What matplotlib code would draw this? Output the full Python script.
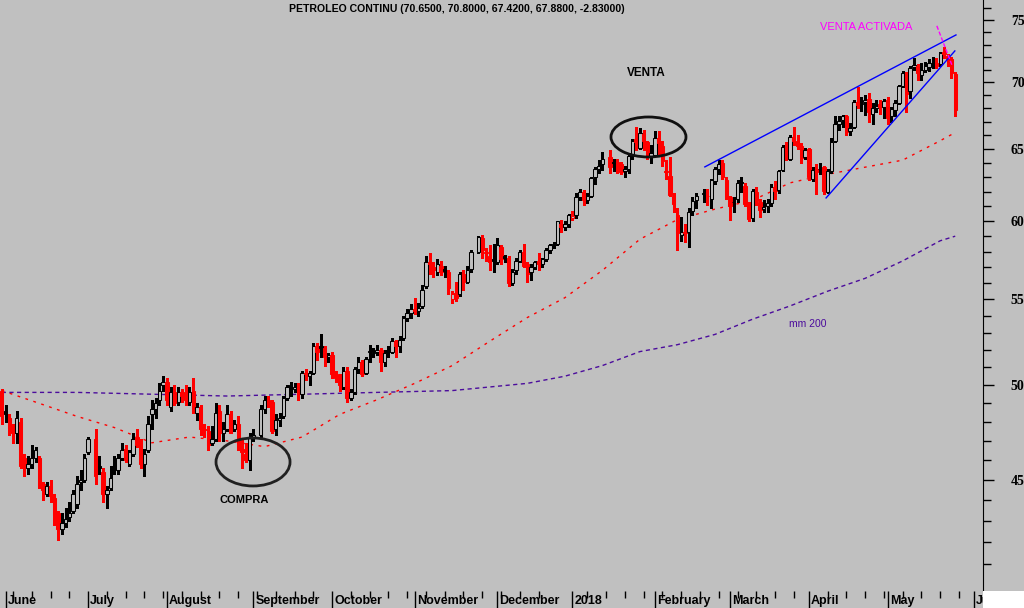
import numpy as np
import pandas as pd
import matplotlib
matplotlib.use('Agg')
import matplotlib.pyplot as plt
from matplotlib.patches import Ellipse, Rectangle
from matplotlib.ticker import FixedLocator, FuncFormatter, NullFormatter

# One slot per weekday from 31 May 2017 to 25 May 2018; the US-only holidays stay empty (None)
opens = [
    49.7,
    # June
    48.6, 48.2, 47.7, 47.4, 48.0, 46.1, 45.6, 45.8, 46.1, 46.1, 44.8, 44.3, 44.7, 44.1, 43.4,
    42.6, 42.9, 43.2, 43.5, 43.8, 44.9, 45.0,
    # July
    46.4, None, 47.1, 45.7, 45.4, 44.3, 44.6, 45.8, 45.5, 46.1, 46.6, 45.8, 46.3, 47.2, 47.0,
    45.8, 46.5, 48.4, 48.7, 49.2, 50.0,
    # August
    50.2, 48.8, 49.6, 49.1, 49.6, 49.4, 49.1, 49.7, 48.5, 48.8, 47.6, 47.5, 46.9, 47.1, 48.6,
    47.4, 47.6, 48.4, 47.6, 47.9, 46.6, 46.3, 46.0,
    # September
    47.2, None, 47.3, 48.7, 49.2, 49.1, 47.6, 48.1, 48.3, 49.3, 50.0, 49.8, 49.9, 49.5, 50.7,
    50.5, 50.7, 52.2, 52.2, 52.1, 51.6,
    # October
    51.7, 50.6, 50.4, 49.9, 50.8, 49.3, 49.6, 50.9, 51.3, 50.7, 51.95, 51.8, 51.9, 52.0, 51.3,
    52.0, 51.9, 52.5, 52.2, 52.7, 53.9, 54.2,
    # November
    54.4, 54.3, 54.6, 55.8, 57.3, 57.0, 56.7, 57.1, 56.9, 56.7, 55.0, 55.4, 55.3, 56.6, 56.1,
    56.9, None, 58.0, 58.9, 57.9, 57.7, 57.5,
    # December
    57.3, 58.3, 57.7, 57.6, 56.0, 56.8, 57.4, 58.0, 57.2, 56.7, 57.0, 57.4, 57.2, 57.5, 58.1,
    58.4, 58.5, 59.8, 59.6, 59.8,
    # January
    60.2, 60.4, 61.6, 62.0, 61.4, 61.7, 63.0, 63.6, 63.9, None, 64.4, 64.1, 64.1, 63.9, 63.4,
    63.6, 64.5, 65.7, 65.1, 66.1, 65.5, 64.5,
    # February
    64.6, 65.8, 65.2, 63.45, 63.1, 61.7, 60.4, 59.1, 59.3, 59.3, 60.7, 61.4, None, 61.8, 61.7,
    61.5, 62.7, 63.6, 64.0, 62.8,
    # March
    61.6, 61.3, 61.5, 62.65, 62.4, 61.2, 60.2, 62.0, 61.3, 60.8, 61.0, 61.2, 62.3, 62.1, 63.5,
    65.2, 64.3, 65.9, 65.6, 65.2, 64.4,
    # April
    65.0, 62.9, 63.6, 63.6, 63.7, 62.0, 63.4, 65.6, 66.8, 67.1, 67.4, 66.3, 66.6, 68.5, 68.3,
    68.5, 68.7, 67.6, 68.0, 68.3, 68.1,
    # May
    68.6, 67.4, 67.9, 68.4, 69.7, 70.6, 69.3, 71.2, 71.3, 70.6, 71.0, 71.2, 71.55, 71.5, 71.4,
    72.4, 72.1, 71.8, 70.65,
]
highs = [
    49.8,
    48.9, 48.4, 47.9, 48.6, 48.2, 46.3, 46.2, 46.8, 46.7, 46.2, 44.9, 44.9, 45.0, 44.3, 43.5,
    43.4, 43.6, 43.9, 44.5, 45.2, 45.5, 46.3,
    47.2, None, 47.6, 46.2, 45.6, 44.7, 45.7, 46.2, 46.3, 46.9, 46.8, 46.5, 47.4, 47.6, 47.1,
    46.6, 48.3, 49.2, 49.3, 50.1, 50.5,
    50.4, 49.9, 50.0, 49.9, 49.8, 50.0, 49.9, 50.4, 49.0, 48.9, 47.9, 47.8, 47.8, 49.0, 48.9,
    48.0, 48.9, 48.6, 48.1, 48.3, 47.1, 46.9, 47.4,
    47.6, None, 48.9, 49.4, 49.4, 49.2, 48.4, 48.5, 49.4, 50.0, 50.2, 50.1, 50.1, 50.8, 50.9,
    50.8, 52.4, 52.4, 52.9, 52.2, 51.8,
    51.9, 50.8, 50.6, 51.0, 51.0, 49.8, 51.0, 51.6, 51.4, 51.6, 52.3, 52.1, 52.3, 52.1, 52.0,
    52.2, 52.7, 52.6, 52.8, 54.0, 54.4, 54.7,
    55.1, 54.8, 55.9, 57.7, 57.9, 57.3, 57.5, 57.4, 57.1, 56.8, 55.5, 56.1, 56.7, 56.8, 57.1,
    58.1, None, 59.0, 59.1, 58.2, 58.4, 58.5,
    58.9, 58.4, 57.8, 57.7, 56.9, 57.6, 58.1, 58.5, 57.3, 57.2, 57.4, 57.9, 57.6, 58.2, 58.5,
    58.6, 60.0, 60.1, 60.0, 60.5,
    60.7, 61.9, 62.2, 62.1, 61.9, 63.0, 63.7, 64.2, 64.8, None, 64.9, 64.3, 64.3, 64.1, 63.8,
    64.7, 65.7, 66.6, 66.5, 66.4, 65.6, 65.3,
    66.3, 66.3, 65.6, 64.2, 64.4, 61.9, 60.9, 60.3, 59.8, 60.9, 61.6, 61.9, None, 62.2, 62.2,
    62.9, 63.7, 64.2, 64.2, 63.0,
    61.7, 61.6, 62.8, 63.0, 62.6, 61.3, 62.2, 62.3, 61.5, 61.4, 61.5, 62.5, 62.7, 63.5, 65.3,
    65.5, 66.0, 66.6, 66.0, 65.4, 65.1,
    65.1, 63.7, 63.9, 64.0, 63.8, 63.6, 65.8, 67.4, 67.4, 67.5, 67.5, 66.9, 68.6, 69.6, 68.9,
    69.0, 69.2, 68.4, 68.6, 68.6, 68.7,
    68.9, 68.1, 68.6, 69.8, 70.9, 70.8, 71.3, 71.9, 71.4, 71.5, 71.6, 71.8, 72.0, 71.9, 72.4,
    72.8, 72.2, 72.0, 70.8,
]
lows = [
    47.9,
    48.0, 47.3, 46.9, 46.9, 45.6, 45.2, 45.3, 45.6, 45.9, 44.6, 44.0, 44.2, 43.9, 42.8, 42.1,
    42.4, 42.7, 43.0, 43.4, 43.6, 44.5, 44.9,
    46.3, None, 44.8, 45.3, 43.9, 43.6, 44.5, 45.3, 45.3, 46.0, 45.9, 45.7, 46.2, 46.7, 45.6,
    45.2, 46.4, 47.6, 48.2, 48.9, 49.7,
    48.9, 48.6, 48.9, 48.9, 49.1, 48.9, 48.9, 48.5, 48.1, 47.3, 47.2, 46.5, 46.8, 47.0, 47.0,
    47.0, 47.5, 47.4, 47.5, 46.5, 45.6, 45.9, 45.5,
    47.0, None, 47.2, 48.5, 48.8, 47.4, 47.3, 47.8, 48.2, 49.2, 49.4, 49.6, 49.2, 49.3, 50.3,
    50.0, 50.6, 51.4, 51.6, 51.1, 51.3,
    50.4, 50.2, 49.7, 49.8, 49.1, 49.2, 49.5, 50.7, 50.5, 50.6, 51.3, 51.6, 51.7, 50.8, 51.1,
    51.6, 51.8, 51.6, 51.9, 52.6, 53.7, 53.9,
    54.1, 54.0, 54.5, 55.7, 56.6, 56.4, 56.5, 56.5, 56.4, 55.3, 54.8, 54.9, 55.2, 55.6, 56.0,
    56.7, None, 57.9, 57.6, 57.4, 56.8, 56.7,
    57.2, 57.2, 57.3, 55.8, 55.9, 56.6, 57.3, 57.0, 56.1, 56.2, 56.9, 56.8, 57.0, 57.4, 57.9,
    58.2, 58.4, 59.3, 59.4, 59.6,
    60.1, 60.2, 61.4, 61.1, 61.2, 61.6, 62.5, 63.3, 63.5, None, 63.3, 63.4, 63.3, 63.2, 63.0,
    63.3, 64.3, 64.9, 65.0, 64.9, 64.3, 64.0,
    64.5, 64.6, 63.8, 62.9, 61.7, 60.6, 58.1, 58.7, 58.6, 58.3, 60.4, 60.9, None, 61.3, 61.1,
    60.9, 62.5, 63.2, 62.9, 61.5,
    60.1, 60.6, 61.3, 62.0, 61.0, 60.0, 60.0, 61.1, 60.3, 60.6, 60.6, 61.0, 61.5, 61.9, 63.4,
    64.2, 64.2, 65.3, 65.0, 64.0, 64.3,
    62.8, 62.7, 61.8, 63.2, 61.8, 61.9, 63.3, 65.5, 66.4, 66.6, 66.0, 66.0, 66.5, 68.0, 67.8,
    67.5, 67.0, 66.8, 67.7, 67.6, 67.3,
    66.8, 67.0, 67.4, 68.3, 69.6, 67.7, 68.8, 71.0, 70.2, 70.2, 70.8, 70.9, 71.1, 71.1, 71.3,
    71.9, 71.3, 70.3, 67.42,
]
closes = [
    48.3,
    48.4, 47.7, 47.4, 48.2, 45.7, 45.6, 45.8, 46.1, 46.5, 44.7, 44.5, 44.7, 44.2, 43.3, 42.6,
    42.9, 43.1, 43.4, 44.3, 44.8, 45.0, 46.1,
    47.1, None, 45.2, 45.6, 44.3, 44.5, 45.1, 45.5, 46.1, 46.5, 46.0, 46.4, 47.1, 46.8, 45.8,
    46.3, 47.9, 48.7, 49.0, 49.7, 50.2,
    49.2, 49.6, 49.0, 49.6, 49.4, 49.2, 49.6, 48.6, 48.8, 47.6, 47.55, 46.8, 47.1, 48.5, 47.4,
    47.6, 48.4, 47.4, 47.9, 46.6, 46.4, 46.0, 47.2,
    47.3, None, 48.7, 49.2, 49.1, 47.5, 48.1, 48.2, 49.3, 49.9, 49.9, 49.9, 49.5, 50.7, 50.6,
    50.7, 52.2, 51.9, 52.1, 51.6, 51.7,
    50.6, 50.4, 50.0, 50.8, 49.3, 49.6, 50.9, 51.3, 50.6, 51.5, 51.87, 51.9, 52.0, 51.3, 51.8,
    51.9, 52.5, 52.2, 52.6, 53.9, 54.2, 54.4,
    54.3, 54.5, 55.6, 57.35, 57.2, 56.8, 57.2, 56.7, 56.76, 55.7, 55.3, 55.1, 56.55, 56.1, 56.8,
    58.0, None, 58.95, 58.1, 58.0, 57.3, 57.4,
    58.4, 57.5, 57.6, 56.0, 56.7, 57.4, 58.0, 57.1, 56.6, 57.0, 57.3, 57.2, 57.5, 58.1, 58.4,
    58.5, 59.97, 59.6, 59.8, 60.4,
    60.37, 61.6, 62.0, 61.4, 61.7, 62.96, 63.6, 63.8, 64.3, None, 63.7, 63.97, 63.95, 63.37, 63.57,
    64.47, 65.61, 65.51, 66.14, 65.56, 64.5, 64.73,
    65.8, 65.45, 64.15, 63.39, 61.79, 61.15, 59.2, 59.29, 59.19, 60.6, 61.34, 61.68, None, 61.9, 61.68,
    62.77, 63.55, 63.91, 63.01, 61.64,
    60.99, 61.25, 62.57, 62.6, 61.15, 60.12, 62.04, 61.36, 60.71, 60.96, 61.19, 62.34, 62.06, 63.4, 65.17,
    64.3, 65.88, 65.55, 65.25, 64.38, 64.94,
    63.01, 63.51, 63.37, 63.54, 62.06, 63.42, 65.51, 66.82, 67.07, 67.39, 66.22, 66.52, 68.47, 68.29, 68.38,
    68.64, 67.70, 68.05, 68.19, 68.10, 68.57,
    67.25, 67.93, 68.43, 69.72, 70.73, 69.06, 71.14, 71.36, 70.70, 70.96, 71.31, 71.49, 71.49, 71.28, 72.35,
    72.20, 71.84, 70.71, 67.88,
]

# moving averages at a few slots
ma_slots = [0, 10, 20, 30, 40, 50, 60, 70, 80, 90, 100, 110, 120, 130, 140, 150, 160, 170,
            180, 190, 200, 210, 220, 230, 240, 250, 254]
ma_short = [49.7, 49.0, 48.3, 47.7, 46.9, 47.2, 47.0, 46.7, 47.2, 48.4, 49.2, 50.1, 51.1, 52.5,
            53.9, 55.1, 56.8, 58.8, 60.1, 60.8, 61.4, 62.6, 63.2, 63.7, 64.2, 65.6, 66.2]
ma200_slots = [0, 20, 40, 60, 80, 100, 120, 130, 140, 150, 160, 170, 180, 190, 200, 210, 220,
               230, 240, 250, 254]
ma200 = [49.6, 49.6, 49.5, 49.4, 49.5, 49.6, 49.7, 49.9, 50.1, 50.5, 51.1, 51.9, 52.3, 52.9,
         53.8, 54.6, 55.5, 56.3, 57.4, 58.7, 59.0]

month_labels = ['June', 'July', 'August', 'September', 'October', 'November', 'December',
                '2018', 'February', 'March', 'April', 'May', 'Jun']
price_ticks = [45, 50, 55, 60, 65, 70, 75]

BG = '#c0c0c0'
SANS = ['Liberation Sans', 'DejaVu Sans']

# weekday slots (Christmas, New Year and Good Friday have no slot)
slots = pd.bdate_range('2017-05-31', '2018-06-01')
slots = slots.drop(pd.to_datetime(['2017-12-25', '2018-01-01', '2018-03-30']))

o = np.array(opens, dtype=float)
h = np.array(highs, dtype=float)
l = np.array(lows, dtype=float)
c = np.array(closes, dtype=float)
x = np.arange(len(c))
ok = ~np.isnan(c)

prev = pd.Series(c).ffill().shift(1).to_numpy()
prev[0] = o[0]
colors = np.where(c < prev, '#ff0000', '#000000')
faces = np.where(c < o, colors, BG)

fig = plt.figure(figsize=(10.24, 6.08), dpi=100, facecolor=BG)
ax = fig.add_axes([0, 17 / 608, 983 / 1024, 591 / 608], facecolor=BG)

# wicks then bodies
ax.vlines(x[ok], l[ok], h[ok], colors=colors[ok], linewidth=1, zorder=2, antialiased=False)
bot = np.minimum(o, c)
top = np.maximum(o, c)
ax.bar(x[ok], np.maximum(top - bot, 0.04)[ok], bottom=bot[ok], width=0.9,
       color=faces[ok], edgecolor=colors[ok], linewidth=0.75, zorder=3)

# moving averages
ax.plot(ma_slots, ma_short, color='#ff0000', lw=1, ls=(0, (2, 4)), zorder=1)
ax.plot(ma200_slots, ma200, color='#4b0c9c', lw=1, ls=(0, (3, 2.5)), zorder=1)

ax.set_yscale('log')
ax.set_ylim(39.78, 76.7)
ax.set_xlim(-0.47, 261.4)

# right price axis
ax.yaxis.tick_right()
ax.yaxis.set_major_locator(FixedLocator(price_ticks))
ax.yaxis.set_minor_locator(FixedLocator([v for v in range(40, 77) if v % 5]))
ax.yaxis.set_major_formatter(FuncFormatter(lambda v, p: f'{v:.0f}'))
ax.yaxis.set_minor_formatter(NullFormatter())
ax.tick_params(axis='y', which='major', length=8, width=1, pad=12, labelsize=10)
ax.tick_params(axis='y', which='minor', length=6, width=1)
for lab in ax.get_yticklabels():
    lab.set_fontweight('bold')
    lab.set_family('Liberation Serif')

# month separators and weekly ticks
month_pos = [i for i in range(1, len(slots)) if slots[i].month != slots[i - 1].month]
week_pos = [i for i in range(len(slots)) if slots[i].weekday() == 0 and i not in month_pos]
ax.set_xticks(month_pos)
ax.set_xticklabels([])
ax.set_xticks(week_pos, minor=True)
ax.tick_params(axis='x', which='major', length=18, width=1, direction='out')
ax.tick_params(axis='x', which='minor', length=5, width=1, direction='out')
for pos, name in zip(month_pos, month_labels):
    ax.text(pos + 0.6, -10 / 591, name, transform=ax.get_xaxis_transform(),
            ha='left', va='center', fontsize=9, fontweight='bold', family=SANS,
            clip_on=False)

for side in ['left', 'top', 'bottom']:
    ax.spines[side].set_visible(False)
ax.spines['right'].set_color('black')

# annotations
ax.add_patch(Ellipse((0.2574, 0.2183), 0.0753, 0.0812, transform=ax.transAxes,
                     fill=False, edgecolor='#202020', lw=2, zorder=4))
ax.add_patch(Ellipse((0.6597, 0.7682), 0.0763, 0.0677, transform=ax.transAxes,
                     fill=False, edgecolor='#101010', lw=2, zorder=4))
ax.text(64.5, 44.0, 'COMPRA', ha='center', va='center', fontsize=8, fontweight='bold',
        family=SANS)
ax.text(171.6, 70.7, 'VENTA', ha='center', va='center', fontsize=8.5, fontweight='bold',
        family=SANS)
ax.text(230.2, 74.4, 'VENTA ACTIVADA', ha='center', va='center', fontsize=8,
        color='#ff00ff', family=SANS)
ax.text(214.8, 53.5, 'mm 200', ha='center', va='center', fontsize=7.5, color='#4b0c9c',
        family=SANS)

ax.plot([187.3, 254.2], [63.72, 73.78], color='#0000ff', lw=1, zorder=5)
ax.plot([219.6, 253.9], [61.56, 72.48], color='#0000ff', lw=1, zorder=5)
ax.plot([249.1, 253.1], [74.53, 71.37], color='#ff00ff', lw=1, ls=(0, (3, 1.5)), zorder=5)

last = np.flatnonzero(ok)[-1]
title = 'PETROLEO CONTINU ({:.4f}, {:.4f}, {:.4f}, {:.4f}, {:.5f})'.format(
    o[last], h[last], l[last], c[last], c[last] - c[last - 1])
fig.text(457 / 1024, 1 - 9 / 608, title, ha='center', va='center', fontsize=7.6,
         fontweight='bold', family=SANS)

# white corner under the price scale
fig.add_artist(Rectangle((983 / 1024, 0), 41 / 1024, 17 / 608, transform=fig.transFigure,
                         facecolor='white', edgecolor='none', zorder=10))

fig.savefig('out.png', dpi=100, facecolor=BG)
